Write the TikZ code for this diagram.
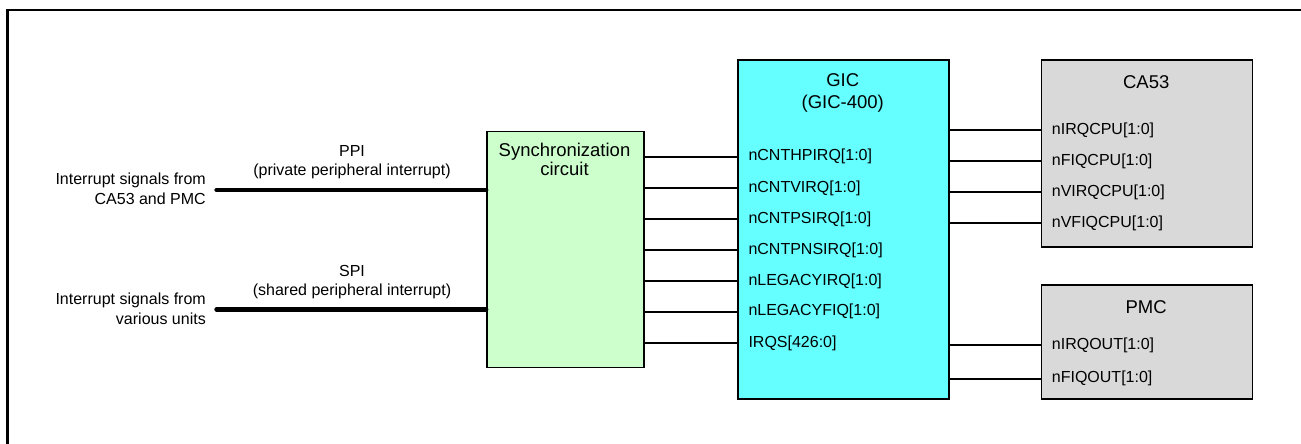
\documentclass[tikz,border=0pt]{standalone}
\usepackage{fontspec}
\setmainfont{Liberation Sans}
\tikzset{
  blk/.style={draw=black, line width=1.6pt, anchor=north west, inner sep=0pt},
  port/.style={anchor=west, inner sep=0pt, font=\fontsize{16}{19}\selectfont},
  lbl/.style={inner sep=0pt, align=center, font=\fontsize{16}{19}\selectfont},
  ttl/.style={inner sep=0pt, align=center, font=\fontsize{18.5}{22.5}\selectfont},
  wire/.style={line width=1.8pt},
  bus/.style={line width=4.8pt, line cap=round},
}
\definecolor{syncgreen}{RGB}{204,255,204}
\definecolor{giccyan}{RGB}{102,255,255}
\definecolor{boxgray}{RGB}{217,217,217}
\begin{document}
\begin{tikzpicture}[x=1pt,y=-1pt]
\useasboundingbox (0,0) rectangle (1301,444);
% frame (cropped)
\draw[line width=2.2pt] (7.5,444) -- (7.5,10) -- (1301,10);
% boxes
\node[blk, fill=syncgreen, minimum width=157pt, minimum height=236pt] (sync) at (486,130.7) {};
\node[blk, fill=giccyan, minimum width=211pt, minimum height=339pt] (gic) at (737.3,59.3) {};
\node[blk, fill=boxgray, minimum width=211pt, minimum height=187pt] (ca53) at (1040.7,59.3) {};
\node[blk, fill=boxgray, minimum width=211pt, minimum height=114pt] (pmc) at (1040.7,284.3) {};
% titles
\node[ttl, font=\fontsize{18.5}{18.5}\selectfont] (synct) at (564.5,159.5) {Synchronization\\circuit};
\node[ttl] (gict) at (842.7,93) {GIC\\(GIC-400)};
\node[ttl] (ca53t) at (1146.2,81.7) {CA53};
\node[ttl] (pmct) at (1146.2,306.7) {PMC};
% GIC ports
\node[port] (g1) at (748.3,156.7) {nCNTHPIRQ[1:0]};
\node[port] (g2) at (748.3,188.3) {nCNTVIRQ[1:0]};
\node[port] (g3) at (748.3,219) {nCNTPSIRQ[1:0]};
\node[port] (g4) at (748.3,250) {nCNTPNSIRQ[1:0]};
\node[port] (g5) at (748.3,281) {nLEGACYIRQ[1:0]};
\node[port] (g6) at (748.3,311.7) {nLEGACYFIQ[1:0]};
\node[port] (g7) at (748.3,343.3) {IRQS[426:0]};
% CA53 ports
\node[port] (c1) at (1051.7,130) {nIRQCPU[1:0]};
\node[port] (c2) at (1051.7,161) {nFIQCPU[1:0]};
\node[port] (c3) at (1051.7,192.3) {nVIRQCPU[1:0]};
\node[port] (c4) at (1051.7,223.3) {nVFIQCPU[1:0]};
% PMC ports
\node[port] (p1) at (1051.7,345.3) {nIRQOUT[1:0]};
\node[port] (p2) at (1051.7,378.7) {nFIQOUT[1:0]};
% wires sync -> GIC
\foreach \g in {g1,g2,g3,g4,g5,g6,g7}
  \draw[wire] (sync.east |- \g.west) -- (gic.west |- \g.west);
% wires GIC -> CA53 / PMC
\foreach \c in {c1,c2,c3,c4}
  \draw[wire] (gic.east |- \c.west) -- (ca53.west |- \c.west);
\foreach \p in {p1,p2}
  \draw[wire] (gic.east |- \p.west) -- (pmc.west |- \p.west);
% left inputs
\coordinate (ppiin) at (216.7,190);
\coordinate (spiin) at (216.7,309.3);
\draw[bus] (ppiin) -- (sync.west |- ppiin);
\draw[bus] (spiin) -- (sync.west |- spiin);
\node[lbl, align=right, anchor=east, font=\fontsize{16}{20}\selectfont] (src1) at (206,189) {Interrupt signals from\\CA53 and PMC};
\node[lbl, align=right, anchor=east, font=\fontsize{16}{20}\selectfont] (src2) at (206,309) {Interrupt signals from\\various units};
\node[lbl] (ppi) at (352,162.2) {PPI\\(private peripheral interrupt)};
\node[lbl] (spi) at (352,281.7) {SPI\\(shared peripheral interrupt)};
\end{tikzpicture}
\end{document}
